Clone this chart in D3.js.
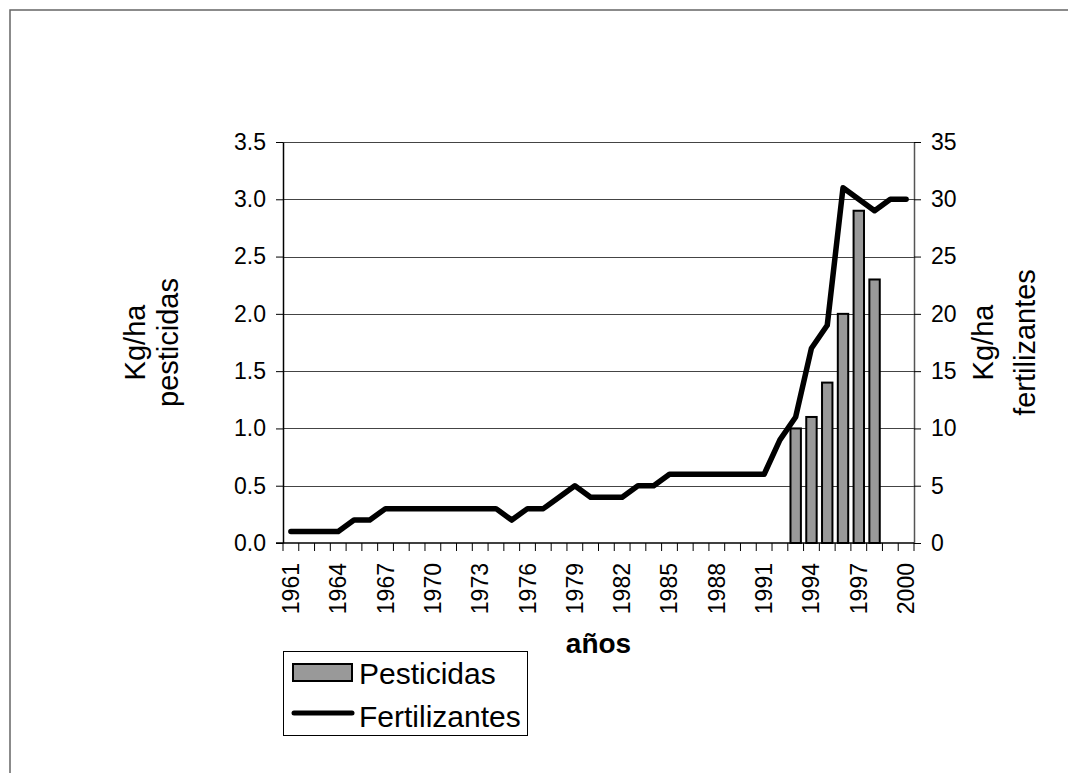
<!DOCTYPE html>
<html>
<head>
<meta charset="utf-8">
<script src="https://cdn.jsdelivr.net/npm/d3@7"></script>
<style>
  body { margin: 0; background: #fff; }
  svg { font-family: "Liberation Sans", Arial, sans-serif; }
</style>
</head>
<body>
<svg id="chart" width="1068" height="773"></svg>
<script>
// years on the x axis
const years = d3.range(1961, 2001);

// tick labels shown (every 3 years)
const yearLabels = [1961, 1964, 1967, 1970, 1973, 1976, 1979, 1982, 1985, 1988, 1991, 1994, 1997, 2000];

// fertilizantes kg/ha (right axis), one per year
const fertilizantes = [1, 1, 1, 1, 2, 2, 3, 3, 3, 3, 3, 3, 3, 3, 2, 3, 3, 4, 5, 4,
                       4, 4, 5, 5, 6, 6, 6, 6, 6, 6, 6, 9, 11, 17, 19, 31, 30, 29, 30, 30];

// pesticidas kg/ha (left axis), only reported from 1993 to 1998
const pestYears = [1993, 1994, 1995, 1996, 1997, 1998];
const pesticidas = [1.0, 1.1, 1.4, 2.0, 2.9, 2.3];

const leftTicks = [0, 0.5, 1.0, 1.5, 2.0, 2.5, 3.0, 3.5];
const rightTicks = [0, 5, 10, 15, 20, 25, 30, 35];

const margin = {left: 283, right: 914, top: 142, bottom: 543};

const svg = d3.select("#chart");

// outer frame (runs off the right and bottom)
svg.append("rect")
    .attr("x", 10).attr("y", 10)
    .attr("width", 1120).attr("height", 820)
    .attr("fill", "none")
    .attr("stroke", "#666")
    .attr("stroke-width", 1.5);

const x = d3.scaleBand()
    .domain(years)
    .range([margin.left, margin.right]);

const yL = d3.scaleLinear().domain([0, 3.5]).range([margin.bottom, margin.top]);
const yR = d3.scaleLinear().domain([0, 35]).range([margin.bottom, margin.top]);

// gridlines
svg.append("g")
    .selectAll("line")
    .data(leftTicks.slice(1))
    .enter()
    .append("line")
    .attr("x1", margin.left).attr("x2", margin.right)
    .attr("y1", d => Math.round(yL(d)) + 0.5)
    .attr("y2", d => Math.round(yL(d)) + 0.5)
    .attr("stroke", "#444")
    .attr("stroke-width", 1);

// bars
svg.append("g")
    .selectAll("rect")
    .data(pestYears.map((yr, i) => ({year: yr, v: pesticidas[i]})))
    .enter()
    .append("rect")
    .attr("x", d => x(d.year) + x.bandwidth() * 0.17)
    .attr("width", x.bandwidth() * 0.66)
    .attr("y", d => yL(d.v))
    .attr("height", d => yL(0) - yL(d.v))
    .attr("fill", "#999999")
    .attr("stroke", "#000")
    .attr("stroke-width", 2);

// left axis
const leftAxis = svg.append("g")
    .attr("transform", "translate(" + margin.left + ",0)")
    .call(d3.axisLeft(yL).tickValues(leftTicks).tickFormat(d3.format(".1f")).tickSize(7).tickSizeOuter(0).tickPadding(10));

// right axis
const rightAxis = svg.append("g")
    .attr("transform", "translate(" + margin.right + ",0)")
    .call(d3.axisRight(yR).tickValues(rightTicks).tickSize(7).tickSizeOuter(0).tickPadding(10));

// bottom axis: ticks at band edges, labels every 3 years
const bottom = svg.append("g");
bottom.append("line")
    .attr("x1", margin.left - 7).attr("x2", margin.right)
    .attr("y1", margin.bottom).attr("y2", margin.bottom)
    .attr("stroke", "#000").attr("stroke-width", 1.5);

bottom.selectAll(".xtick")
    .data(years.concat([2001]))
    .enter()
    .append("line")
    .attr("class", "xtick")
    .attr("x1", (d, i) => margin.left + i * x.step())
    .attr("x2", (d, i) => margin.left + i * x.step())
    .attr("y1", margin.bottom)
    .attr("y2", margin.bottom + 8)
    .attr("stroke", "#000")
    .attr("stroke-width", 1);

bottom.selectAll(".xlabel")
    .data(yearLabels)
    .enter()
    .append("text")
    .attr("class", "xlabel")
    .attr("transform", d => "translate(" + (x(d) + x.bandwidth() / 2 + 8) + "," + (margin.bottom + 20) + ") rotate(-90)")
    .attr("text-anchor", "end")
    .style("font-size", "23px")
    .text(d => d);

[leftAxis, rightAxis].forEach(ax => {
    ax.select(".domain").attr("stroke", "#000").attr("stroke-width", 1.5);
    ax.selectAll("text").style("font-size", "23px").attr("fill", "#000").style("font-family", "Liberation Sans, Arial, sans-serif");
});
rightAxis.select(".domain").attr("stroke", "#555");

// fertilizantes line
const line = d3.line()
    .x((d, i) => x(years[i]) + x.bandwidth() / 2)
    .y(d => yR(d));

svg.append("path")
    .datum(fertilizantes)
    .attr("d", line)
    .attr("fill", "none")
    .attr("stroke", "#000")
    .attr("stroke-width", 5.5)
    .attr("stroke-linejoin", "round")
    .attr("stroke-linecap", "round");

// axis titles
const leftTitle = svg.append("text")
    .attr("transform", "translate(145," + ((margin.top + margin.bottom) / 2) + ") rotate(-90)")
    .attr("text-anchor", "middle")
    .style("font-size", "29px");
leftTitle.append("tspan").attr("x", 0).attr("dy", 0).text("Kg/ha");
leftTitle.append("tspan").attr("x", 0).attr("dy", 33).text("pesticidas");

const rightTitle = svg.append("text")
    .attr("transform", "translate(993," + ((margin.top + margin.bottom) / 2) + ") rotate(-90)")
    .attr("text-anchor", "middle")
    .style("font-size", "29px");
rightTitle.append("tspan").attr("x", 0).attr("dy", 0).text("Kg/ha");
rightTitle.append("tspan").attr("x", 0).attr("dy", 42).text("fertilizantes");

svg.append("text")
    .attr("x", (margin.left + margin.right) / 2)
    .attr("y", 653)
    .attr("text-anchor", "middle")
    .style("font-size", "28px")
    .style("font-weight", "bold")
    .text("años");

// legend
const legend = svg.append("g");
legend.append("rect")
    .attr("x", 283.5).attr("y", 651.5)
    .attr("width", 244).attr("height", 84)
    .attr("fill", "#fff")
    .attr("stroke", "#000")
    .attr("stroke-width", 1);
legend.append("rect")
    .attr("x", 293).attr("y", 664)
    .attr("width", 59).attr("height", 17)
    .attr("fill", "#999999")
    .attr("stroke", "#000")
    .attr("stroke-width", 2);
legend.append("line")
    .attr("x1", 294).attr("x2", 352)
    .attr("y1", 713).attr("y2", 713)
    .attr("stroke", "#000")
    .attr("stroke-width", 5)
    .attr("stroke-linecap", "round");
legend.append("text")
    .attr("x", 359).attr("y", 684)
    .style("font-size", "30px")
    .text("Pesticidas");
legend.append("text")
    .attr("x", 359).attr("y", 727)
    .style("font-size", "30px")
    .text("Fertilizantes");
</script>
</body>
</html>
